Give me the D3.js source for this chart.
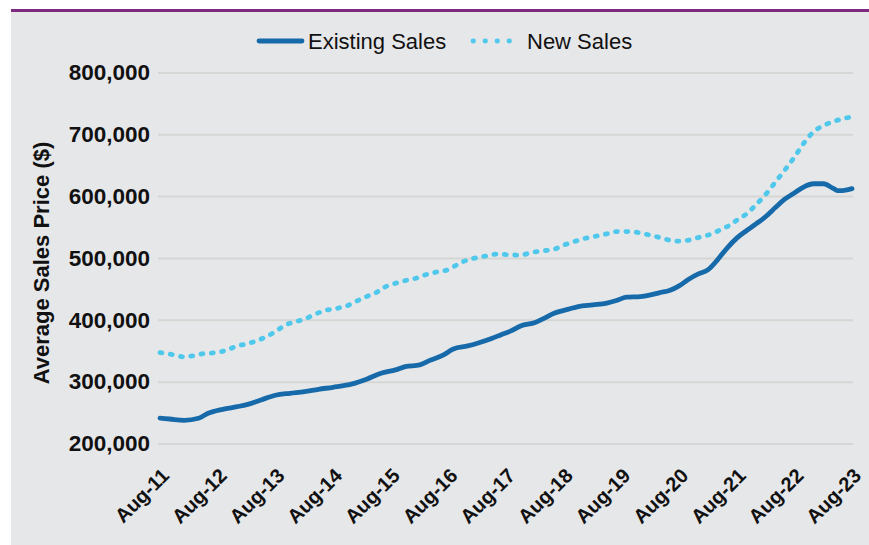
<!DOCTYPE html>
<html>
<head>
<meta charset="utf-8">
<script src="https://cdn.jsdelivr.net/npm/d3@7"></script>
<style>
  html, body { margin: 0; padding: 0; background: #ffffff; }
  svg { display: block; }
  text { font-family: "Liberation Sans", Arial, sans-serif; }
</style>
</head>
<body>
<svg id="chart" width="869" height="545"></svg>
<script>
// ---------------- DATA ----------------
const seriesNames = ["Existing Sales", "New Sales"];

const existingDates = ["2011-08","2011-10","2012-01","2012-04","2012-06","2012-09","2012-12","2013-02","2013-05","2013-08",
  "2013-11","2014-02","2014-05","2014-08","2014-12","2015-03","2015-06","2015-09","2015-11","2016-02",
  "2016-04","2016-07","2016-09","2016-12","2017-02","2017-05","2017-07","2017-09","2017-11","2018-02",
  "2018-04","2018-06","2018-09","2018-11","2019-02","2019-05","2019-07","2019-09","2019-12","2020-02",
  "2020-04","2020-06","2020-08","2020-10","2020-12","2021-02","2021-04","2021-06","2021-08","2021-10",
  "2021-12","2022-02","2022-04","2022-06","2022-08","2022-10","2022-12","2023-02","2023-04","2023-05",
  "2023-06","2023-07","2023-08"];
const existingValues = [241000,239600,237500,240800,248900,255300,259500,262800,270400,278000,
  281200,283800,287700,290900,296300,303900,313600,319000,324300,327000,
  334000,343200,352900,357800,362100,369600,376000,382000,390100,395500,
  402600,410700,417200,421400,424100,426900,431100,436600,437600,440300,
  444000,447400,454900,465700,474300,481000,497000,516000,532000,544000,
  555000,567000,581000,595000,605000,615000,620000,620000,613000,609000,
  609000,610000,612000];

const newDates = ["2011-08","2011-11","2012-01","2012-03","2012-05","2012-07","2012-10","2012-12","2013-02","2013-04",
  "2013-06","2013-08","2013-10","2013-12","2014-02","2014-04","2014-06","2014-09","2014-11","2015-01",
  "2015-03","2015-05","2015-07","2015-09","2015-11","2016-01","2016-03","2016-06","2016-08","2016-10",
  "2016-12","2017-02","2017-04","2017-06","2017-08","2017-11","2018-01","2018-03","2018-06","2018-08",
  "2018-10","2018-12","2019-02","2019-05","2019-07","2019-09","2019-11","2020-01","2020-04","2020-06",
  "2020-08","2020-10","2020-12","2021-03","2021-05","2021-07","2021-08","2021-10","2021-12","2022-02",
  "2022-04","2022-06","2022-08","2022-10","2022-12","2023-02","2023-04","2023-06","2023-08"];
const newValues = [346900,343200,340000,342000,345300,346400,351300,357800,361000,365900,
  372300,380900,391200,396600,401000,408000,414400,418800,423000,430600,
  437500,444000,453700,459200,463400,466700,472200,478000,481200,490000,
  497000,500600,503400,506100,505500,504500,508300,511000,514200,520700,
  526000,530900,534100,539000,542700,542700,541700,538500,533000,528800,
  527200,528800,533000,539500,547000,555000,561000,571000,586000,603000,
  622000,642000,663000,686000,704000,714000,720000,725000,728000];

const xTickDates = ["2011-08","2012-08","2013-08","2014-08","2015-08","2016-08","2017-08",
  "2018-08","2019-08","2020-08","2021-08","2022-08","2023-08"];
const yTickValues = [200000,300000,400000,500000,600000,700000,800000];
const yAxisTitle = "Average Sales Price ($)";

// ---------------- CHART ----------------
const parse = d3.timeParse("%Y-%m");
const svg = d3.select("#chart");

svg.append("rect").attr("x", 11).attr("y", 11).attr("width", 858).attr("height", 534).attr("fill", "#e6e7e9");
svg.append("rect").attr("x", 11).attr("y", 9).attr("width", 858).attr("height", 3).attr("fill", "#7d2a80");

const x = d3.scaleTime().domain([parse("2011-08"), parse("2023-08")]).range([160, 852]);
const y = d3.scaleLinear().domain([200000, 800000]).range([443.5, 72.4]);

// gridlines + y labels
const yAxis = d3.axisLeft(y).tickValues(yTickValues).tickSize(-(853 - 158)).tickPadding(8)
  .tickFormat(d3.format(","));
const gy = svg.append("g").attr("transform", "translate(158,0)").call(yAxis);
gy.select(".domain").remove();
gy.selectAll(".tick line").attr("stroke", "#d6d6d4").attr("stroke-width", 2);
gy.selectAll(".tick text").attr("font-size", 22.5).attr("font-weight", "bold").attr("fill", "#111").attr("x", -8);

// x axis
const xAxis = d3.axisBottom(x).tickValues(xTickDates.map(parse)).tickSize(0)
  .tickFormat(d3.timeFormat("%b-%y"));
const gx = svg.append("g").attr("transform", "translate(0,462)").call(xAxis);
gx.select(".domain").remove();
gx.selectAll(".tick text")
  .attr("font-size", 20).attr("font-weight", "bold").attr("fill", "#111")
  .attr("text-anchor", "end").attr("dy", "0.7em")
  .attr("transform", "translate(0,5) rotate(-45)")
  .attr("y", 0).attr("x", 0);

// y title
svg.append("text").attr("transform", "translate(49,263) rotate(-90)")
  .attr("text-anchor", "middle").attr("font-size", 22).attr("font-weight", "bold").attr("fill", "#111")
  .text(yAxisTitle);

// lines
const line = d3.line().x(d => x(d.date)).y(d => y(d.value)).curve(d3.curveMonotoneX);
const existing = existingDates.map((d, i) => ({date: parse(d), value: existingValues[i]}));
const newer = newDates.map((d, i) => ({date: parse(d), value: newValues[i]}));

svg.append("path").datum(newer).attr("d", line).attr("fill", "none")
  .attr("stroke", "#4fc8eb").attr("stroke-width", 4.8).attr("stroke-linecap", "round")
  .attr("stroke-dasharray", "2 8.4");
svg.append("path").datum(existing).attr("d", line).attr("fill", "none")
  .attr("stroke", "#176aa9").attr("stroke-width", 4.8).attr("stroke-linecap", "round").attr("stroke-linejoin", "round");

// legend
const lg = svg.append("g");
lg.append("line").attr("x1", 259).attr("x2", 302).attr("y1", 41).attr("y2", 41)
  .attr("stroke", "#176aa9").attr("stroke-width", 4.8).attr("stroke-linecap", "round");
lg.append("text").attr("x", 308).attr("y", 48.5).attr("font-size", 22).attr("fill", "#111").text(seriesNames[0]);
lg.append("line").attr("x1", 473).attr("x2", 521).attr("y1", 41).attr("y2", 41)
  .attr("stroke", "#4fc8eb").attr("stroke-width", 4.8).attr("stroke-linecap", "round")
  .attr("stroke-dasharray", "0.5 11.5");
lg.append("text").attr("x", 527).attr("y", 48.5).attr("font-size", 22).attr("fill", "#111").text(seriesNames[1]);
</script>
</body>
</html>
